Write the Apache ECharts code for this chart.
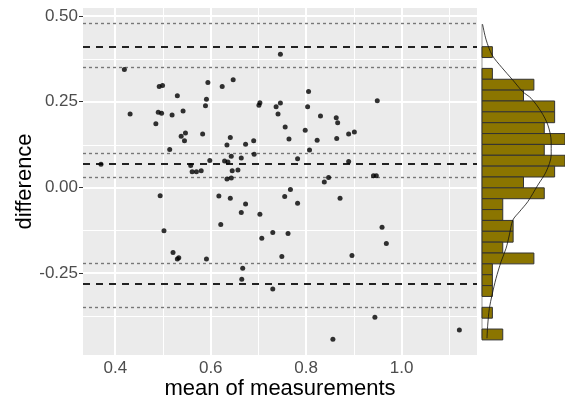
<!DOCTYPE html>
<html>
<head>
<meta charset="utf-8">
<script src="https://cdn.jsdelivr.net/npm/echarts@6/dist/echarts.min.js"></script>
<style>
  html, body { margin: 0; padding: 0; background: #fff; }
  #main { width: 565px; height: 407px; }
</style>
</head>
<body>
<div id="main"></div>
<script>
// mean of the two measurements / difference, one entry per subject
var meanVals = [0.419, 0.492, 0.499, 0.594, 0.624, 0.530, 0.591, 0.589, 0.431, 0.490,
  0.497, 0.519, 0.542, 0.485, 0.547, 0.538, 0.545, 0.583, 0.634, 0.514,
  0.370, 0.598, 0.629, 0.558, 0.561, 0.570, 0.580, 0.634, 0.494, 0.617,
  0.746, 0.647, 0.701, 0.703, 0.737, 0.746, 0.741, 0.805, 0.803, 0.830,
  0.863, 0.866, 0.756, 0.798, 0.764, 0.823, 0.864, 0.889, 0.901, 0.641,
  0.673, 0.690, 0.691, 0.643, 0.664, 0.636, 0.645, 0.657, 0.643, 0.807,
  0.782, 0.889, 0.838, 0.847, 0.767, 0.755, 0.641, 0.871, 0.949, 0.941,
  0.947, 0.621, 0.502, 0.521, 0.530, 0.533, 0.591, 0.673, 0.664, 0.703,
  0.782, 0.707, 0.730, 0.762, 0.749, 0.896, 0.667, 0.665, 0.730, 0.856,
  0.959, 0.968, 0.944, 1.121];
var diffVals = [0.344, 0.294, 0.297, 0.306, 0.294, 0.267, 0.257, 0.238, 0.214, 0.219,
  0.216, 0.211, 0.223, 0.186, 0.159, 0.149, 0.136, 0.156, 0.124, 0.111,
  0.068, 0.079, 0.077, 0.064, 0.046, 0.046, 0.049, 0.025, -0.024, -0.025,
  0.388, 0.314, 0.240, 0.247, 0.235, 0.246, 0.214, 0.280, 0.235, 0.208,
  0.203, 0.189, 0.176, 0.167, 0.141, 0.138, 0.143, 0.156, 0.162, 0.146,
  0.126, 0.136, 0.097, 0.091, 0.086, 0.074, 0.049, 0.051, 0.028, 0.109,
  0.084, 0.076, 0.016, 0.029, -0.006, -0.026, -0.031, -0.031, 0.253, 0.034,
  0.034, -0.108, -0.126, -0.189, -0.208, -0.205, -0.208, -0.048, -0.073, -0.078,
  -0.046, -0.148, -0.131, -0.134, -0.201, -0.198, -0.235, -0.267, -0.296, -0.442,
  -0.116, -0.163, -0.378, -0.415];

// bias and limits of agreement (dashed), their confidence bounds (dotted)
var agreementLines = [0.412, 0.0656, -0.284];
var ciLines = [0.4755, 0.347, 0.098, 0.027, -0.223, -0.347];

// marginal histogram, bins listed from the top down
var binTop = 0.4103;
var binWidth = 0.03164;
var binCounts = [1, 0, 1, 5, 4, 7, 7, 6, 8, 6, 8, 7, 4, 6, 2, 2, 3, 3, 2, 5, 1, 1, 1, 0, 1, 0, 2];

// density curve drawn over the histogram (in count units)
var densityDiff = [0.476, 0.430, 0.386, 0.350, 0.313, 0.279, 0.260, 0.221, 0.182, 0.133,
  0.095, 0.046, 0.007, -0.041, -0.071, -0.095, -0.138, -0.177, -0.216, -0.265,
  -0.313, -0.352, -0.401, -0.439];
var densityCount = [0.05, 0.4, 0.97, 1.9, 2.97, 3.93, 4.73, 5.70, 6.35, 6.67,
  6.67, 6.18, 5.38, 4.42, 3.60, 2.97, 2.64, 2.32, 1.84, 1.35,
  0.97, 0.71, 0.55, 0.48];

// axis ticks
var xMajor = [0.4, 0.6, 0.8, 1.0];
var xMinor = [0.5, 0.7, 0.9, 1.1];
var yMajor = [-0.25, 0, 0.25, 0.5];
var yMinor = [-0.375, -0.125, 0.125, 0.375];

var xMin = 0.3323, xMax = 1.158;
var yMin = -0.488, yMax = 0.523;

var chart = echarts.init(document.getElementById('main'), null, { renderer: 'canvas' });

var points = meanVals.map(function (m, i) { return [m, diffVals[i]]; });

var bins = [];
binCounts.forEach(function (c, i) {
  var hi = binTop - i * binWidth;
  if (c > 0) bins.push([c, hi - binWidth, hi]);
});

var density = densityCount.map(function (c, i) { return [c, densityDiff[i]]; });

// panel grid lines: [0 = vertical / 1 = horizontal, value, 1 = major]
var gridSegs = [];
xMinor.forEach(function (v) { gridSegs.push([0, v, 0]); });
yMinor.forEach(function (v) { gridSegs.push([1, v, 0]); });
xMajor.forEach(function (v) { gridSegs.push([0, v, 1]); });
yMajor.forEach(function (v) { gridSegs.push([1, v, 1]); });

var refMarks = [];
ciLines.forEach(function (v) {
  refMarks.push({ yAxis: v, lineStyle: { color: '#777', width: 1.4, type: [3, 3] } });
});
agreementLines.forEach(function (v) {
  refMarks.push({ yAxis: v, lineStyle: { color: '#222', width: 1.8, type: [7, 6] } });
});

var option = {
  animation: false,
  textStyle: { fontFamily: 'Liberation Sans, Arial, sans-serif' },
  grid: [
    { left: 83, right: 88, top: 8, bottom: 52 },
    { left: 482, right: 0, top: 8, bottom: 52 }
  ],
  xAxis: [
    {
      type: 'value', gridIndex: 0, min: xMin, max: xMax,
      axisLine: { show: false },
      axisTick: { show: true, customValues: xMajor, length: 4, lineStyle: { color: '#333' } },
      axisLabel: {
        customValues: xMajor, margin: 5, color: '#4D4D4D', fontSize: 17,
        formatter: function (v) { return v.toFixed(1); }
      },
      splitLine: { show: false },
      name: 'mean of measurements', nameLocation: 'middle', nameGap: 23,
      nameMoveOverlap: false,
      nameTextStyle: { fontSize: 22, color: '#000' }
    },
    { type: 'value', gridIndex: 1, min: 0, max: 8, show: false }
  ],
  yAxis: [
    {
      type: 'value', gridIndex: 0, min: yMin, max: yMax,
      axisLine: { show: false },
      axisTick: { show: true, customValues: yMajor, length: 4, lineStyle: { color: '#333' } },
      axisLabel: {
        customValues: yMajor, margin: 5, color: '#4D4D4D', fontSize: 17,
        formatter: function (v) { return v.toFixed(2); }
      },
      splitLine: { show: false },
      name: 'difference', nameLocation: 'middle', nameGap: 47,
      nameMoveOverlap: false,
      nameTextStyle: { fontSize: 22, color: '#000' }
    },
    { type: 'value', gridIndex: 1, min: yMin, max: yMax, show: false }
  ],
  series: [
    {
      // grey panel
      type: 'custom', xAxisIndex: 0, yAxisIndex: 0, z: 0, silent: true,
      renderItem: function (params, api) {
        var a = api.coord([xMin, yMax]);
        var b = api.coord([xMax, yMin]);
        return {
          type: 'rect',
          shape: { x: a[0], y: a[1], width: b[0] - a[0], height: b[1] - a[1] },
          style: { fill: '#EBEBEB' }
        };
      },
      data: [[xMin, yMin]]
    },
    {
      // white grid lines, snapped to whole pixels so they stay crisp
      type: 'custom', xAxisIndex: 0, yAxisIndex: 0, z: 1, silent: true,
      renderItem: function (params, api) {
        var v = api.value(1);
        var major = api.value(2) === 1;
        var w = major ? 2 : 1;
        var off = major ? 0 : 0.5;
        var a = api.coord([xMin, yMax]);
        var b = api.coord([xMax, yMin]);
        var shape;
        if (api.value(0) === 0) {
          var x = Math.round(api.coord([v, 0])[0]) + off;
          shape = { x1: x, y1: a[1], x2: x, y2: b[1] };
        } else {
          var y = Math.round(api.coord([0.5, v])[1]) + off;
          shape = { x1: a[0], y1: y, x2: b[0], y2: y };
        }
        return {
          type: 'line',
          shape: shape,
          style: { stroke: '#FFFFFF', lineWidth: w }
        };
      },
      encode: { x: 1, y: 1 },
      data: gridSegs
    },
    {
      type: 'scatter', xAxisIndex: 0, yAxisIndex: 0, data: [], z: 2, silent: true,
      markLine: {
        silent: true, symbol: 'none', label: { show: false }, z: 2,
        data: refMarks
      }
    },
    {
      type: 'scatter', xAxisIndex: 0, yAxisIndex: 0, z: 3,
      symbolSize: 5, itemStyle: { color: '#000' },
      data: points
    },
    {
      // density baseline
      type: 'line', xAxisIndex: 1, yAxisIndex: 1, z: 1, showSymbol: false,
      lineStyle: { color: '#999', width: 1 },
      data: [[0, densityDiff[0]], [0, densityDiff[densityDiff.length - 1]]]
    },
    {
      type: 'custom', xAxisIndex: 1, yAxisIndex: 1, z: 2,
      renderItem: function (params, api) {
        var p1 = api.coord([0, api.value(2)]);
        var p2 = api.coord([api.value(0), api.value(1)]);
        return {
          type: 'rect',
          shape: { x: p1[0], y: p1[1], width: p2[0] - p1[0], height: p2[1] - p1[1] },
          style: { fill: '#8B7500', stroke: '#333', lineWidth: 1 }
        };
      },
      encode: { x: 0, y: [1, 2] },
      data: bins
    },
    {
      type: 'line', xAxisIndex: 1, yAxisIndex: 1, z: 3, showSymbol: false,
      smooth: 0.3,
      lineStyle: { color: '#111', width: 0.8 },
      data: density
    }
  ]
};

chart.setOption(option);
</script>
</body>
</html>
